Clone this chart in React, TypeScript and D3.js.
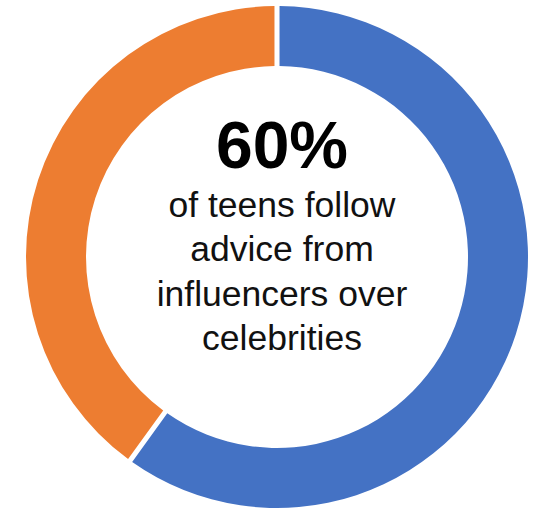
import React from "react";
import * as d3 from "d3";

const categories = ["Influencers", "Celebrities"];
const values = [60, 40];
const captionLines = ["of teens follow", "advice from", "influencers over", "celebrities"];

const COLORS = ["#4472C4", "#ED7D31"];
const W = 534;
const H = 510;

export default function App() {
  const cx = 277;
  const cy = 257;
  const outerR = 251;
  const innerR = 191;

  const pie = d3
    .pie<number>()
    .sort(null)
    .value((d) => d)
    .padAngle(0.016);
  const arcs = pie(values);
  const arc = d3
    .arc<d3.PieArcDatum<number>>()
    .innerRadius(innerR)
    .outerRadius(outerR);

  const total = d3.sum(values);
  const headline = `${Math.round((values[0] / total) * 100)}%`;

  const textX = 282;
  const fontFamily = "'Liberation Sans', Arial, Helvetica, sans-serif";

  return (
    <div style={{ position: "fixed", left: 0, top: 0, width: W, height: H, background: "#fff" }}>
      <svg width={W} height={H} viewBox={`0 0 ${W} ${H}`} style={{ display: "block" }}>
        <rect width={W} height={H} fill="#fff" />
        <g transform={`translate(${cx},${cy})`}>
          {arcs.map((a, i) => (
            <path key={categories[i]} d={arc(a) || ""} fill={COLORS[i]} />
          ))}
        </g>
        <text
          x={textX}
          y={168}
          textAnchor="middle"
          fontFamily={fontFamily}
          fontWeight="bold"
          fontSize={66}
          fill="#000"
        >
          {headline}
        </text>
        {captionLines.map((line, i) => (
          <text
            key={line}
            x={textX}
            y={217 + i * 44.3}
            textAnchor="middle"
            fontFamily={fontFamily}
            fontSize={35.5}
            fill="#111"
          >
            {line}
          </text>
        ))}
      </svg>
    </div>
  );
}
